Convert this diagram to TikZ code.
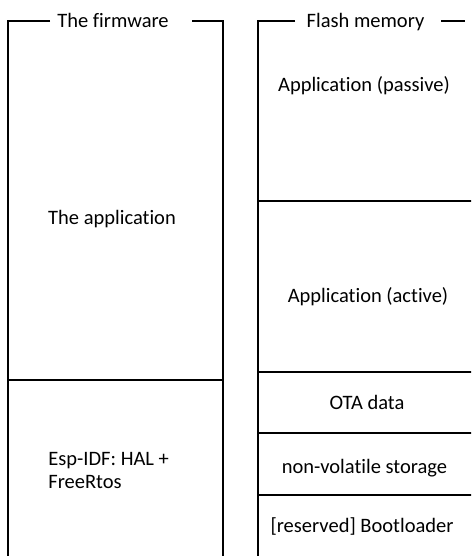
\documentclass[tikz,border=0pt]{standalone}
\usepackage{fontspec}
\setmainfont{Carlito}[Ligatures=NoCommon]
\begin{document}
\begin{tikzpicture}[x=1pt,y=-1pt,line width=2.8pt,
  lbl/.style={inner sep=0pt,anchor=base,font=\fontsize{20.5}{24}\selectfont},
  lblw/.style={lbl,anchor=base west}]
\useasboundingbox (0,0) rectangle (471,556);
\clip (0,0) rectangle (471,556);

% firmware column
\draw (50,21) -- (8,21) -- (8,558) -- (223,558) -- (223,21) -- (192,21);
\draw (8,380) -- (223,380);
\node[lbl] (fwtitle) at (113,27.5) {The firmware};
\node[lbl] (app) at (112,224) {The application};
\node[lblw] (idf1) at (47,465) {Esp-IDF: HAL +};
\node[lblw] (idf2) at (47,488) {FreeRtos};

% flash memory column
\draw (295,21) -- (258,21) -- (258,558) -- (474,558) -- (474,21);
\draw (441,21) -- (465,21);
\foreach \yy in {201,372,433,495}
  \draw (258,\yy) -- (474,\yy);
\node[lbl] (fltitle) at (365.5,27.5) {Flash memory};
\node[lbl] (passive) at (364,92) {Application (passive)};
\node[lbl] (active) at (368,302) {Application (active)};
\node[lbl] (ota) at (367,409) {OTA data};
\node[lbl] (nvs) at (364.5,473) {non-volatile storage};
\node[lbl] (boot) at (362,532) {[reserved] Bootloader};
\end{tikzpicture}
\end{document}
